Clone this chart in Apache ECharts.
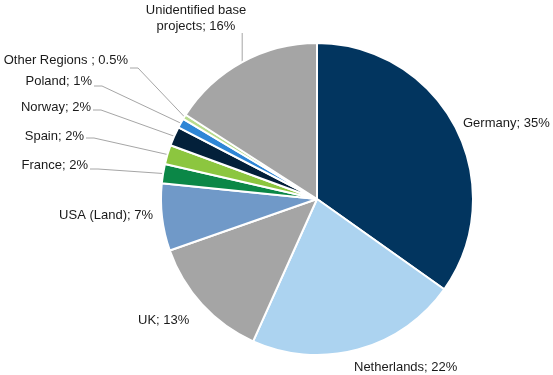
<!DOCTYPE html>
<html>
<head>
<meta charset="utf-8">
<script src="https://cdn.jsdelivr.net/npm/echarts@6/dist/echarts.min.js"></script>
<style>
  html, body { margin: 0; padding: 0; background: #fff; }
  #chart { width: 553px; height: 375px; }
</style>
</head>
<body>
<div id="chart"></div>
<script>
// Share of projects by region (%), clockwise from 12 o'clock
const regions = ['Germany', 'Netherlands', 'UK', 'USA (Land)', 'France', 'Spain', 'Norway', 'Poland', 'Other Regions ', 'Unidentified base\nprojects'];
const shares = [35, 22, 13, 7, 2, 2, 2, 1, 0.5, 16];
const sliceColors = ['#02355f', '#acd3f0', '#a5a5a5', '#7099c8', '#0b8747', '#8cc63f', '#03203a', '#2e86d6', '#b8dc8e', '#a5a5a5'];

// Label placement: anchor point, alignment, and whether a leader line is drawn
const labelSpots = [
  { x: 463, y: 123, align: 'left',   line: false },
  { x: 354, y: 367, align: 'left',   line: false },
  { x: 138, y: 320, align: 'left',   line: false },
  { x: 153, y: 215, align: 'right',  line: false },
  { x: 88,  y: 165, align: 'right',  line: true, ly: 169 },
  { x: 84,  y: 136, align: 'right',  line: true, ly: 138 },
  { x: 91,  y: 107, align: 'right',  line: true, ly: 110 },
  { x: 92,  y: 81,  align: 'right',  line: true, ly: 86 },
  { x: 128, y: 60,  align: 'right',  line: true, ly: 68 },
  { x: 196, y: 18,  align: 'center', line: true, vertical: true }
];

const chart = echarts.init(document.getElementById('chart'), null, { renderer: 'canvas' });

const seriesData = regions.map((name, i) => ({
  name: name,
  value: shares[i],
  itemStyle: { color: sliceColors[i] },
  labelLine: { show: labelSpots[i].line }
}));

chart.setOption({
  animation: false,
  backgroundColor: '#ffffff',
  series: [{
    type: 'pie',
    center: [317, 199],
    radius: 156,
    startAngle: 90,
    clockwise: true,
    avoidLabelOverlap: false,
    data: seriesData,
    itemStyle: { borderColor: '#ffffff', borderWidth: 2 },
    label: {
      show: true,
      position: 'outside',
      formatter: p => p.name + '; ' + p.value + '%',
      fontFamily: 'Liberation Sans, Arial, sans-serif',
      fontSize: 13,
      lineHeight: 16,
      color: '#1a1a1a'
    },
    labelLine: {
      show: true,
      length: 10,
      length2: 10,
      lineStyle: { color: '#a6a6a6', width: 1 }
    },
    emphasis: { disabled: true },
    labelLayout: function (params) {
      const s = labelSpots[params.dataIndex];
      const out = { x: s.x, y: s.y, align: s.align, verticalAlign: 'middle' };
      const pts = params.labelLinePoints;
      if (s.line && pts && pts.length) {
        const edge = pts[0];
        if (s.vertical) {
          out.labelLinePoints = [edge, [edge[0], 33], [edge[0], 33]];
        } else {
          out.labelLinePoints = [edge, [s.x + 10, s.ly], [s.x + 2, s.ly]];
        }
      }
      return out;
    }
  }]
});
</script>
</body>
</html>
